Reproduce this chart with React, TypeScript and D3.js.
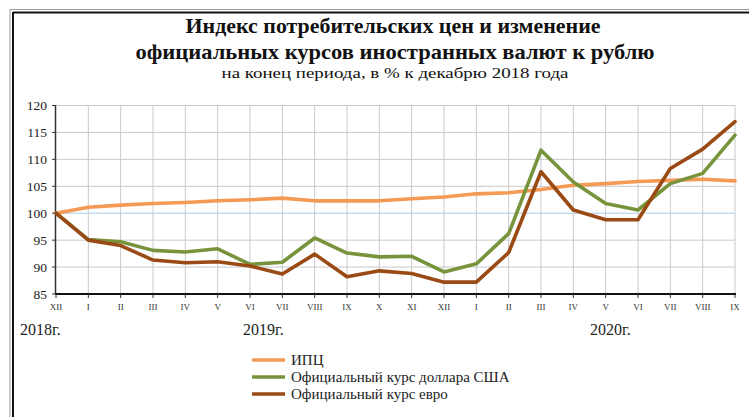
import React from "react";
import * as d3 from "d3";

const months = ["XII","I","II","III","IV","V","VI","VII","VIII","IX","X","XI","XII","I","II","III","IV","V","VI","VII","VIII","IX"];
const cpi = [100,101.1,101.5,101.8,102.0,102.3,102.5,102.8,102.3,102.3,102.3,102.7,103.0,103.6,103.8,104.4,105.2,105.5,105.9,106.1,106.3,106.0];
const usd = [100,95.1,94.7,93.1,92.8,93.4,90.5,90.9,95.4,92.6,91.9,92.0,89.1,90.6,96.2,111.7,105.8,101.8,100.6,105.5,107.4,114.5];
const eur = [100,95.0,94.0,91.3,90.8,91.0,90.2,88.7,92.4,88.2,89.3,88.8,87.2,87.2,92.7,107.7,100.6,98.8,98.8,108.3,111.9,117.0];
const yTicks = [85,90,95,100,105,110,115,120];
const yearLabels = ["2018г.", "2019г.", "2020г."];
const seriesNames = ["ИПЦ", "Официальный курс доллара США", "Официальный курс евро"];
const seriesColors = ["#f59a55", "#77943d", "#9a4a14"];

export default function App() {
  const W = 749, H = 417;
  const x = d3.scaleLinear().domain([0, months.length - 1]).range([56, 735]);
  const y = d3.scaleLinear().domain([85, 120]).range([294, 105.5]);
  const line = d3.line<number>().x((_, i) => x(i)).y((d) => y(d));
  const st = { fontFamily: "Liberation Serif" };
  const data = [cpi, usd, eur];
  const yearX = [20, 243, 590];
  return (
    <svg width={W} height={H} style={{ position: "absolute", left: 0, top: 0, background: "#fff" }}>
      <rect x={0} y={0} width={W} height={H} fill="#fff" />
      <line x1={10} y1={9.5} x2={W} y2={9.5} stroke="#999" strokeWidth={1} />
      <line x1={10} y1={9.5} x2={10} y2={H} stroke="#999" strokeWidth={1} />
      <line x1={13} y1={12.5} x2={W} y2={12.5} stroke="#111" strokeWidth={2} />
      <line x1={13} y1={12} x2={13} y2={H} stroke="#111" strokeWidth={2} />
      <text style={st} x={393} y={33} textAnchor="middle" fontSize={21} fontWeight="bold" fill="#111" textLength={415} lengthAdjust="spacingAndGlyphs">Индекс потребительских цен и изменение</text>
      <text style={st} x={395} y={59} textAnchor="middle" fontSize={21} fontWeight="bold" fill="#111" textLength={519} lengthAdjust="spacingAndGlyphs">официальных курсов иностранных валют к рублю</text>
      <text style={st} x={395} y={78} textAnchor="middle" fontSize={14.5} fill="#111" textLength={347} lengthAdjust="spacingAndGlyphs">на конец периода, в % к декабрю 2018 года</text>
      {yTicks.filter((t) => t !== 85).map((t) => (
        <line key={"h" + t} x1={x(0)} x2={x(months.length - 1)} y1={y(t)} y2={y(t)} stroke={t === 100 ? "#a9cbe6" : "#c9c9c9"} strokeWidth={1} />
      ))}
      {months.map((m, i) => i > 0 && (
        <line key={"v" + i} x1={x(i)} x2={x(i)} y1={y(120)} y2={y(85)} stroke="#c9c9c9" strokeWidth={1} />
      ))}
      <line x1={55.5} x2={55.5} y1={y(120)} y2={y(85)} stroke="#333" strokeWidth={1.5} />
      {yTicks.map((t) => (
        <g key={"yt" + t}>
          <line x1={52} x2={56} y1={y(t)} y2={y(t)} stroke="#333" strokeWidth={1} />
          <text style={st} x={47} y={y(t) + 4.5} textAnchor="end" fontSize={13.5} fill="#222">{t}</text>
        </g>
      ))}
      {data.map((s, k) => (
        <path key={"s" + k} d={line(s) || ""} fill="none" stroke={seriesColors[k]} strokeWidth={3.6} strokeLinejoin="round" strokeLinecap="round" />
      ))}
      <line x1={55} x2={736} y1={y(85)} y2={y(85)} stroke="#111" strokeWidth={2} />
      {months.map((m, i) => (
        <g key={"xt" + i}>
          <line x1={x(i)} x2={x(i)} y1={y(85)} y2={y(85) + 4} stroke="#333" strokeWidth={1} />
          <text style={st} x={x(i)} y={310} textAnchor="middle" fontSize={9} fill="#333">{m}</text>
        </g>
      ))}
      {yearLabels.map((yl, j) => (
        <text style={st} key={yl} x={yearX[j]} y={335} fontSize={16} fill="#222">{yl}</text>
      ))}
      {seriesNames.map((n, k) => (
        <g key={"lg" + k}>
          <line x1={252} x2={285} y1={360 + k * 17} y2={360 + k * 17} stroke={seriesColors[k]} strokeWidth={3.6} />
          <text style={st} x={291} y={365 + k * 17} fontSize={15} fill="#222">{n}</text>
        </g>
      ))}
    </svg>
  );
}
